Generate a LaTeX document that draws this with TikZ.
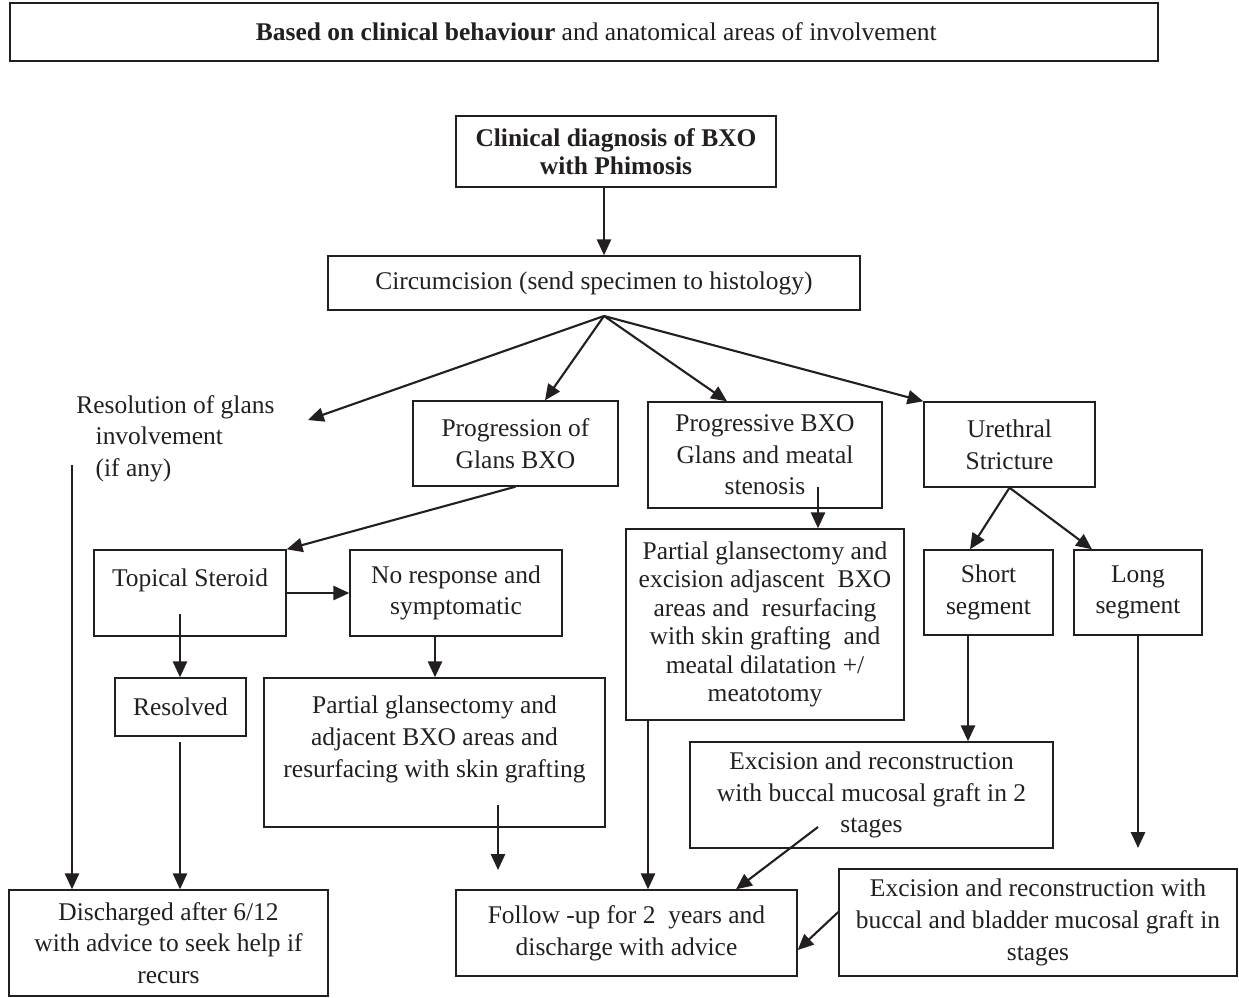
\documentclass[tikz,border=0pt]{standalone}
\usepackage{fontspec}
\setmainfont{Liberation Serif}
\usepackage{tikz}
\usetikzlibrary{arrows.meta}
\definecolor{ink}{HTML}{231F20}

\begin{document}
\begin{tikzpicture}[x=0.02cm,y=-0.02cm,font=\fontsize{14.5}{18}\selectfont]

	\tikzstyle{box} = [draw=ink,line width=0.8pt,align=center,inner sep=2pt,text=ink]
	\tikzstyle{arr} = [draw=ink,line width=1.2pt,-{Triangle[length=9pt,width=8pt]}]
	\tikzset{wh/.style 2 args={minimum width=#1*0.02cm,minimum height=#2*0.02cm}}

	\useasboundingbox (0,0) rectangle (1239,997);

	% top rows
	\node[box,wh={1148}{58}] (basis) at (584,32) {\hspace*{14pt}\textbf{Based on clinical behaviour} and anatomical areas of involvement};
	\node[box,wh={320}{71},font=\fontsize{14.5}{16}\selectfont\bfseries] (diag) at (616,151.5) {Clinical diagnosis of BXO\\with Phimosis};
	\node[box,wh={532}{54}] (circ) at (594,283) {Circumcision (send specimen to histology)};
	\coordinate (fan) at (604,316);

	\node[text=ink,align=left,anchor=north west,inner sep=0pt] (resol) at (76,395) {Resolution of glans\\\hspace*{11pt}involvement\\\hspace*{11pt}(if any)};
	\coordinate (resol end) at (308,420);
	\coordinate (resol out) at (72,465);

	\node[box,wh={205}{85}] (prog) at (515.5,443.5) {Progression of\\Glans BXO};
	\node[box,wh={234}{106}] (pbxo) at (765,455) {Progressive BXO\\Glans and meatal\\stenosis};
	\node[box,wh={171}{85}] (ure) at (1009.5,444.5) {Urethral\\Stricture};

	% middle rows
	\node[box,wh={192}{86}] (topic) at (190,593) {Topical Steroid\\\mbox{}};
	\node[box,wh={212}{86}] (noresp) at (456,593) {No response and\\symptomatic};
	\node[box,wh={278}{191},font=\fontsize{14.5}{16.2}\selectfont] (rpart) at (765,624.5) {Partial glansectomy and\\excision adjascent \ BXO\\areas and \ resurfacing\\with skin grafting \ and\\meatal dilatation +/\\meatotomy};
	\node[box,wh={129}{85}] (short) at (988.5,592.5) {Short\\segment};
	\node[box,wh={128}{85}] (long) at (1138,592.5) {Long\\segment};

	\node[box,wh={131}{58}] (resolved) at (180.5,707) {Resolved};
	\node[box,wh={341}{149}] (lpart) at (434.5,752.5) {Partial glansectomy and\\adjacent BXO areas and\\resurfacing with skin grafting\\\mbox{}};
	\node[box,wh={363}{106}] (exc2) at (871.5,795) {Excision and reconstruction\\with buccal mucosal graft in 2\\stages};

	% bottom row
	\node[box,wh={319}{106}] (disch) at (168.5,943) {Discharged after 6/12\\with advice to seek help if\\recurs};
	\node[box,wh={341}{86}] (follow) at (626.5,933) {Follow -up for 2 \ years and\\discharge with advice};
	\node[box,wh={398}{107}] (bladder) at (1038,922.5) {Excision and reconstruction with\\buccal and bladder mucosal graft in\\stages};

	\coordinate (pbxo out) at (818,487);
	\coordinate (topic out) at (180,614);
	\coordinate (resolved out) at (180,742);
	\coordinate (lpart out) at (498,805);
	\coordinate (lpart end) at (498,870);
	\coordinate (exc2 out) at (818,827);
	\coordinate (long end) at (1138,848);

	% connectors
	\draw[arr] (diag.south -| fan) -- (circ.north -| fan);
	\draw[arr] (fan) -- (resol end);
	\draw[arr] (fan) -- (prog.north -| 545,0);
	\draw[arr] (fan) -- (pbxo.north -| 727,0);
	\draw[arr] (fan) -- (ure.north west);

	\draw[arr] (prog.south) -- (topic.north east);
	\draw[arr] (topic.east) -- (noresp.west);
	\draw[arr] (topic out) -- (resolved.north -| topic out);
	\draw[arr] (noresp.south -| 435,0) -- (lpart.north -| 435,0);
	\draw[arr] (pbxo out) -- (rpart.north -| pbxo out);

	\draw[arr] (ure.south) -- (short.north -| 970,0);
	\draw[arr] (ure.south) -- (long.north -| 1092,0);
	\draw[arr] (short.south -| 968,0) -- (exc2.north -| 968,0);
	\draw[arr] (long.south) -- (long end);

	\draw[arr] (resol out) -- (disch.north -| resol out);
	\draw[arr] (resolved out) -- (disch.north -| resolved out);
	\draw[arr] (lpart out) -- (lpart end);
	\draw[arr] (rpart.south -| 648,0) -- (follow.north -| 648,0);
	\draw[arr] (exc2 out) -- (follow.north -| 736,0);
	\draw[arr] (bladder.west |- 0,912) -- (follow.east |- 0,950);

\end{tikzpicture}
\end{document}
